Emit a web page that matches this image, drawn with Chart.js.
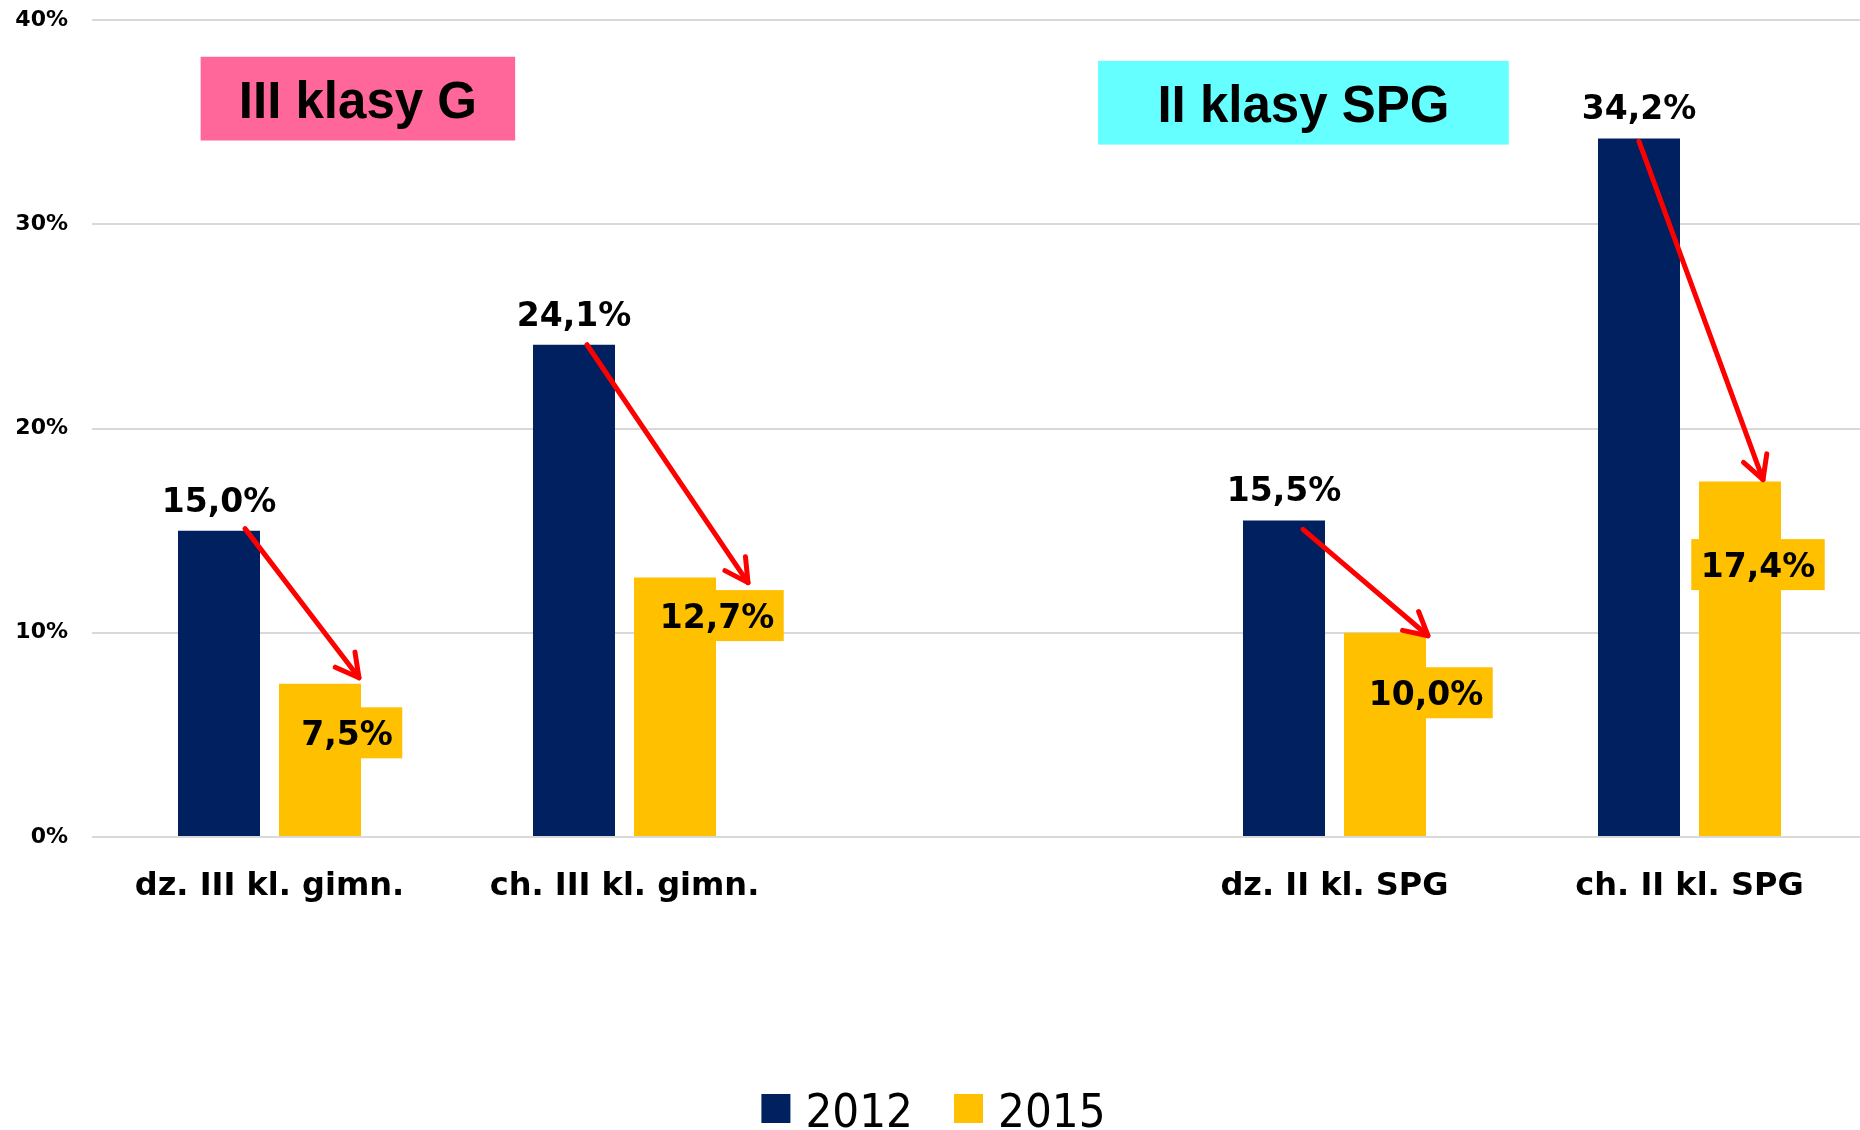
<!DOCTYPE html>
<html>
<head>
<meta charset="utf-8">
<title>Odsetek uczniów – 2012 i 2015</title>
<script src="https://cdn.jsdelivr.net/npm/chart.js@4.4.1/dist/chart.umd.min.js"></script>
<style>
  html, body { margin: 0; padding: 0; background: #ffffff; overflow: hidden; }
  #wrap { width: 1867px; height: 1130px; }
  canvas { display: block; }
</style>
</head>
<body>
<div id="wrap"><canvas id="chart" width="1867" height="1130"></canvas></div>
<script>
// Categories (the empty one separates the two school groups)
const categories = ['dz. III kl. gimn.', 'ch. III kl. gimn.', '', 'dz. II kl. SPG', 'ch. II kl. SPG'];
const seriesNames = ['2012', '2015'];
const values2012 = [15.0, 24.1, null, 15.5, 34.2];
const values2015 = [7.5, 12.7, null, 10.0, 17.4];
const yTicks = [0, 10, 20, 30, 40];
const groupTitles = ['III klasy G', 'II klasy SPG'];

// Colours
const NAVY = '#002060';
const GOLD = '#ffc000';
const RED = '#ff0000';

// Group title boxes, in axis units (category index, percent)
const titleBoxes = [
  { text: groupTitles[0], color: '#ff6699', x0: -0.194, x1: 0.692, yTop: 38.2, yBottom: 34.1 },
  { text: groupTitles[1], color: '#66ffff', x0: 2.334, x1: 3.491, yTop: 38.0, yBottom: 33.9 }
];

// Pixel offsets for the 2015 labels (from the top centre of each bar)
const label2015Offset = [[27, 49], [42, 38], null, [41, 60], [18, 83]];
// Arrow start (from top centre of the 2012 bar) and tip (from top centre of the 2015 bar)
const arrowStartOffset = [[26, -2], [13, 0], null, [19, 9], [0, 3]];
const arrowEndOffset = [[39, -6], [73, 5], null, [43, 3], [23, -2]];

const fmt = v => v.toFixed(1).replace('.', ',') + '%';
const VALUE_FONT = 'bold 33px "DejaVu Sans"';

function drawArrow(ctx, x0, y0, x1, y1) {
  const ang = Math.atan2(y1 - y0, x1 - x0);
  const head = 26, spread = 28.5 * Math.PI / 180;
  ctx.save();
  ctx.strokeStyle = RED;
  ctx.lineWidth = 5;
  ctx.lineCap = 'round';
  ctx.lineJoin = 'round';
  ctx.beginPath();
  ctx.moveTo(x0, y0);
  ctx.lineTo(x1, y1);
  ctx.stroke();
  ctx.beginPath();
  ctx.moveTo(x1 - head * Math.cos(ang - spread), y1 - head * Math.sin(ang - spread));
  ctx.lineTo(x1, y1);
  ctx.lineTo(x1 - head * Math.cos(ang + spread), y1 - head * Math.sin(ang + spread));
  ctx.stroke();
  ctx.restore();
}

const annotations = {
  id: 'annotations',
  afterDatasetsDraw(chart) {
    const ctx = chart.ctx;
    const xs = chart.scales.x, ys = chart.scales.y;
    const m0 = chart.getDatasetMeta(0).data;
    const m1 = chart.getDatasetMeta(1).data;

    // group title boxes
    titleBoxes.forEach(b => {
      const left = xs.getPixelForValue(b.x0), right = xs.getPixelForValue(b.x1);
      const top = ys.getPixelForValue(b.yTop), bottom = ys.getPixelForValue(b.yBottom);
      ctx.save();
      ctx.fillStyle = b.color;
      ctx.fillRect(left, top, right - left, bottom - top);
      ctx.fillStyle = '#000';
      ctx.font = 'bold 51px "Liberation Sans", Arial, sans-serif';
      ctx.textAlign = 'center';
      ctx.textBaseline = 'alphabetic';
      ctx.fillText(b.text, (left + right) / 2, (top + bottom) / 2 + 19);
      ctx.restore();
    });

    ctx.save();
    ctx.font = VALUE_FONT;
    ctx.textAlign = 'center';
    ctx.textBaseline = 'alphabetic';

    // 2012 labels above the bars
    values2012.forEach((v, i) => {
      if (v === null) return;
      const bar = m0[i];
      ctx.fillStyle = '#000';
      ctx.fillText(fmt(v), bar.x, bar.y - 19);
    });

    // 2015 labels on a gold plate
    values2015.forEach((v, i) => {
      if (v === null) return;
      const bar = m1[i];
      const [dx, dy] = label2015Offset[i];
      const cx = bar.x + dx, cy = bar.y + dy;
      const text = fmt(v);
      const w = ctx.measureText(text).width + 19, h = 51;
      ctx.fillStyle = GOLD;
      ctx.fillRect(cx - w / 2, cy - h / 2, w, h);
      ctx.fillStyle = '#000';
      ctx.fillText(text, cx, cy + 12);
    });
    ctx.restore();

    // arrows from 2012 to 2015
    values2012.forEach((v, i) => {
      if (v === null || values2015[i] === null) return;
      const a = m0[i], b = m1[i];
      drawArrow(ctx,
        a.x + arrowStartOffset[i][0], a.y + arrowStartOffset[i][1],
        b.x + arrowEndOffset[i][0], b.y + arrowEndOffset[i][1]);
    });
  }
};

// Legend drawn at the bottom centre from the dataset colours and names
const bottomLegend = {
  id: 'bottomLegend',
  afterDraw(chart) {
    const ctx = chart.ctx;
    const items = chart.data.datasets.map(d => ({ text: d.label, color: d.backgroundColor }));
    const box = 29, gap = 15, itemGap = 41;
    ctx.save();
    ctx.font = '47px "DejaVu Sans Condensed", "DejaVu Sans", sans-serif';
    ctx.textBaseline = 'alphabetic';
    ctx.textAlign = 'left';
    const widths = items.map(it => ctx.measureText(it.text).width);
    const total = widths.reduce((s, w) => s + box + gap + w, 0) + itemGap * (items.length - 1);
    let x = chart.width / 2 - total / 2;
    const baseY = chart.height - 3;
    items.forEach((it, i) => {
      ctx.fillStyle = it.color;
      ctx.fillRect(x, baseY - 33, box, box);
      ctx.fillStyle = '#000';
      ctx.fillText(it.text, x + box + gap, baseY);
      x += box + gap + widths[i] + itemGap;
    });
    ctx.restore();
  }
};

new Chart(document.getElementById('chart'), {
  type: 'bar',
  data: {
    labels: categories,
    datasets: [
      { label: seriesNames[0], data: values2012, backgroundColor: NAVY },
      { label: seriesNames[1], data: values2015, backgroundColor: GOLD }
    ]
  },
  options: {
    responsive: false,
    animation: false,
    layout: { padding: { top: 20, left: 0, right: 0, bottom: 0 } },
    datasets: { bar: { categoryPercentage: 0.569, barPercentage: 0.812 } },
    scales: {
      x: {
        grid: { display: false },
        border: { display: false },
        ticks: {
          padding: 22,
          color: '#000',
          font: { family: '"DejaVu Sans"', weight: 'bold', size: 32 },
          maxRotation: 0,
          autoSkip: false
        },
        afterFit(scale) { scale.height = 293; }
      },
      y: {
        min: yTicks[0],
        max: yTicks[yTicks.length - 1],
        afterBuildTicks(scale) { scale.ticks = yTicks.map(v => ({ value: v })); },
        ticks: {
          padding: 0,
          color: '#000',
          font: { family: '"DejaVu Sans"', weight: 'bold', size: 22 },
          callback: v => v + '%'
        },
        grid: {
          color: '#d9d9d9',
          lineWidth: 2,
          drawTicks: true,
          tickLength: 24,
          tickColor: 'rgba(0,0,0,0)'
        },
        border: { display: false },
        afterFit(scale) { scale.width = 92; }
      }
    },
    plugins: {
      legend: { display: false },
      tooltip: { enabled: false }
    }
  },
  plugins: [annotations, bottomLegend]
});
</script>
</body>
</html>
